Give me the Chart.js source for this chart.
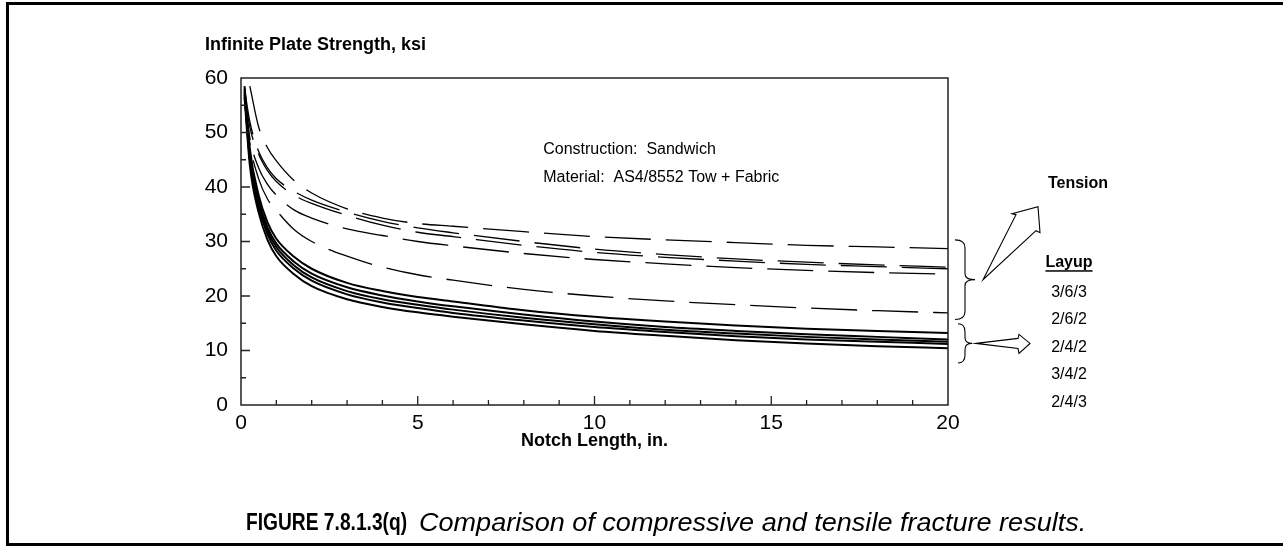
<!DOCTYPE html>
<html>
<head>
<meta charset="utf-8">
<script src="https://cdn.jsdelivr.net/npm/chart.js@4.4.1/dist/chart.umd.min.js"></script>
<style>
  body { margin: 0; background: #fff; }
  #frame {
    position: absolute; left: 6px; top: 2px; width: 1277px; height: 544px;
    box-sizing: border-box;
    border-top: 3px solid #000; border-left: 3px solid #000; border-bottom: 3px solid #000;
  }
  #chart_box { position: absolute; left: 0; top: 0; width: 1283px; height: 546px; }
  .cap {
    position: absolute; top: 508px; white-space: pre; color: #000;
    font-family: "Liberation Sans", Arial, sans-serif; transform-origin: left center;
  }
  #cap_fig { left: 246px; font-size: 24px; font-weight: bold; transform: scaleX(0.8); }
  #cap_text { left: 419px; top: 507px; font-size: 26px; font-style: italic; transform: scaleX(1.04); }
</style>
</head>
<body>
<div id="frame"></div>
<div id="chart_box"><canvas id="plate_chart" width="1283" height="546"></canvas></div>
<div class="cap" id="cap_fig">FIGURE 7.8.1.3(q)</div>
<div class="cap" id="cap_text">Comparison of compressive and tensile fracture results.</div>
<script>
const notch_length = [0.1, 0.25, 0.5, 0.75, 1, 1.5, 2, 3, 4, 5, 6, 8, 10, 12, 14, 16, 18, 20];

// tension (dashed)
const tension_a = [null, 58.5, 51.0, 47.2, 44.8, 41.2, 38.9, 36.0, 34.3, 33.3, 32.8, 31.8, 30.9, 30.3, 29.8, 29.3, 29.0, 28.7];
const tension_b = [58.0, 52.0, 46.5, 43.5, 41.5, 39.2, 37.6, 35.4, 33.7, 32.5, 31.6, 30.0, 28.6, 27.6, 26.8, 26.2, 25.7, 25.3];
const tension_c = [57.0, 51.0, 46.0, 43.0, 41.0, 38.5, 37.0, 34.8, 33.0, 31.7, 30.9, 29.3, 28.0, 27.1, 26.4, 25.8, 25.4, 25.0];
const tension_d = [57.0, 49.0, 43.5, 40.5, 38.5, 35.8, 34.3, 32.3, 31.1, 30.0, 29.2, 27.8, 26.7, 25.9, 25.2, 24.7, 24.3, 24.0];
const tension_e = [56.0, 48.0, 41.5, 37.8, 35.7, 32.2, 30.0, 27.3, 25.3, 23.9, 22.9, 21.2, 20.0, 19.1, 18.4, 17.8, 17.3, 16.9];

// compression (solid)
const compr_1 = [58.5, 47.0, 38.5, 33.5, 30.5, 27.2, 25.0, 22.4, 20.9, 19.8, 19.0, 17.4, 16.2, 15.3, 14.6, 14.0, 13.6, 13.2];
const compr_2 = [58.0, 46.0, 37.5, 32.6, 29.6, 26.3, 24.1, 21.6, 20.1, 19.0, 18.1, 16.6, 15.3, 14.3, 13.6, 13.0, 12.5, 12.0];
const compr_3 = [57.5, 45.5, 37.0, 32.0, 29.0, 25.6, 23.4, 20.9, 19.4, 18.4, 17.5, 16.0, 14.8, 13.8, 13.1, 12.5, 12.0, 11.6];
const compr_4 = [57.0, 45.0, 36.3, 31.3, 28.3, 25.0, 22.8, 20.3, 18.8, 17.8, 16.9, 15.5, 14.3, 13.4, 12.6, 12.0, 11.6, 11.2];
const compr_5 = [56.5, 44.0, 35.3, 30.3, 27.3, 24.0, 21.8, 19.4, 18.0, 17.0, 16.2, 14.8, 13.6, 12.7, 11.9, 11.3, 10.8, 10.4];

const layups = ["3/6/3", "2/6/2", "2/4/2", "3/4/2", "2/4/3"];

const font_family = "'Liberation Sans', Arial, sans-serif";

function make_points(values) {
    return notch_length.map((x, i) => ({ x: x, y: values[i] }));
}

function line_set(values, dashed) {
    return {
        data: make_points(values),
        borderColor: '#000',
        borderWidth: dashed ? 1.3 : 2,
        borderDash: dashed ? [46, 15] : [],
        pointRadius: 0,
        fill: false,
        cubicInterpolationMode: 'monotone'
    };
}

// ticks inside the plot box + the box itself
const box_and_ticks = {
    id: 'box_and_ticks',
    afterDatasetsDraw(chart) {
        const { ctx, chartArea: a, scales: { x, y } } = chart;
        ctx.save();
        ctx.strokeStyle = '#222';
        ctx.lineWidth = 1.3;
        ctx.beginPath();
        for (let v = 1; v < 20; v++) {
            let px = x.getPixelForValue(v);
            let len = v % 5 === 0 ? 9 : 5;
            ctx.moveTo(px, a.bottom);
            ctx.lineTo(px, a.bottom - len);
        }
        for (let v = 5; v < 60; v += 5) {
            let py = y.getPixelForValue(v);
            let len = v % 10 === 0 ? 9 : 5;
            ctx.moveTo(a.left, py);
            ctx.lineTo(a.left + len, py);
        }
        ctx.stroke();
        ctx.lineWidth = 1.5;
        ctx.strokeRect(a.left, a.top, a.right - a.left, a.bottom - a.top);
        ctx.restore();
    }
};

function draw_brace(ctx, x0, y_top, y_bot, depth) {
    let mid = (y_top + y_bot) / 2;
    let xm = x0 + depth * 0.5;
    ctx.beginPath();
    ctx.moveTo(x0, y_top);
    ctx.quadraticCurveTo(xm, y_top, xm, y_top + 8);
    ctx.lineTo(xm, mid - 6);
    ctx.quadraticCurveTo(xm, mid, x0 + depth, mid);
    ctx.quadraticCurveTo(xm, mid, xm, mid + 6);
    ctx.lineTo(xm, y_bot - 8);
    ctx.quadraticCurveTo(xm, y_bot, x0, y_bot);
    ctx.stroke();
}

function draw_poly(ctx, pts) {
    ctx.beginPath();
    ctx.moveTo(pts[0][0], pts[0][1]);
    for (let i = 1; i < pts.length; i++) ctx.lineTo(pts[i][0], pts[i][1]);
    ctx.closePath();
    ctx.stroke();
}

const annotations = {
    id: 'annotations',
    afterDraw(chart) {
        const { ctx, chartArea: a, scales: { x, y } } = chart;
        ctx.save();
        ctx.fillStyle = '#000';
        ctx.textBaseline = 'middle';

        // axis title on top
        ctx.font = "bold 18px " + font_family;
        ctx.textAlign = 'left';
        ctx.fillText('Infinite Plate Strength, ksi', 205, 45);

        // construction notes
        ctx.font = "16px " + font_family;
        let tx = x.getPixelForValue(8.55);
        ctx.fillText('Construction:  Sandwich', tx, y.getPixelForValue(46.8));
        ctx.fillText('Material:  AS4/8552 Tow + Fabric', tx, y.getPixelForValue(41.8));

        // right side legend
        ctx.textAlign = 'center';
        ctx.font = "bold 16px " + font_family;
        ctx.fillText('Tension', a.right + 130, y.getPixelForValue(40.7));
        let ly = y.getPixelForValue(26.2);
        ctx.fillText('Layup', a.right + 121, ly);
        let lw = ctx.measureText('Layup').width;
        ctx.fillRect(a.right + 121 - lw / 2, ly + 8, lw, 1.5);
        ctx.font = "16px " + font_family;
        layups.forEach((t, i) => {
            ctx.fillText(t, a.right + 121, ly + 30 + i * 27.5);
        });

        // braces and arrows
        ctx.strokeStyle = '#000';
        ctx.lineWidth = 1.1;
        let r = a.right;
        let b1_top = y.getPixelForValue(30.3), b1_bot = y.getPixelForValue(15.7);
        let b2_top = y.getPixelForValue(14.9), b2_bot = y.getPixelForValue(7.7);
        draw_brace(ctx, r + 7, b1_top, b1_bot, 20);
        draw_brace(ctx, r + 10, b2_top, b2_bot, 14);
        let m1 = (b1_top + b1_bot) / 2, m2 = (b2_top + b2_bot) / 2;
        draw_poly(ctx, [[r + 35, m1], [r + 68, m1 - 65], [r + 64, m1 - 66], [r + 90, m1 - 73], [r + 92, m1 - 47], [r + 88, m1 - 49]]);
        draw_poly(ctx, [[r + 28, m2], [r + 70, m2 - 5], [r + 71, m2 - 9], [r + 82, m2], [r + 71, m2 + 10], [r + 70, m2 + 5]]);
        ctx.restore();
    }
};

const ctx = document.getElementById('plate_chart');

const plate_chart = new Chart(ctx, {
    type: 'line',
    data: {
        datasets: [
            line_set(tension_a, true),
            line_set(tension_b, true),
            line_set(tension_c, true),
            line_set(tension_d, true),
            line_set(tension_e, true),
            line_set(compr_1, false),
            line_set(compr_2, false),
            line_set(compr_3, false),
            line_set(compr_4, false),
            line_set(compr_5, false)
        ]
    },
    options: {
        responsive: false,
        animation: false,
        layout: { padding: { left: 0, right: 335, top: 78, bottom: 81 } },
        plugins: { legend: { display: false }, tooltip: { enabled: false } },
        scales: {
            x: {
                type: 'linear', min: 0, max: 20,
                grid: { display: false, drawTicks: false },
                border: { display: false },
                ticks: { stepSize: 5, color: '#000', padding: 6, maxRotation: 0, font: { size: 21, family: font_family } },
                title: { display: true, text: 'Notch Length, in.', color: '#000', padding: { top: 0, bottom: 13 }, font: { size: 18, weight: 'bold', family: font_family } },
                afterFit(s) { s.height = 60; }
            },
            y: {
                type: 'linear', min: 0, max: 60,
                grid: { display: false, drawTicks: false },
                border: { display: false },
                ticks: { stepSize: 10, color: '#000', padding: 13, font: { size: 21, family: font_family } },
                afterFit(s) { s.width = 241; }
            }
        }
    },
    plugins: [box_and_ticks, annotations]
});
</script>
</body>
</html>
